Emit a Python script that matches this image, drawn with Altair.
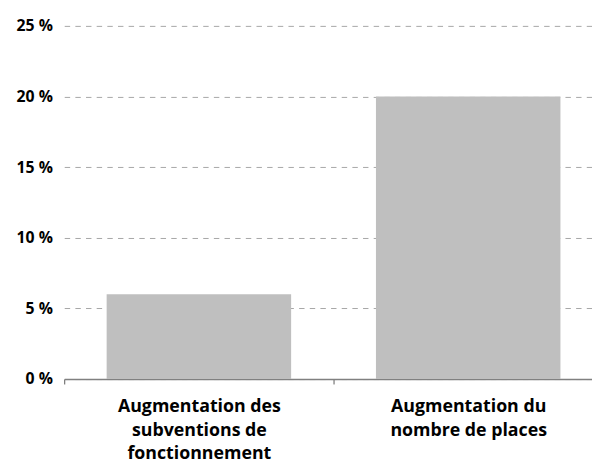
import altair as alt
import pandas as pd

categories = ["Augmentation des|subventions de|fonctionnement", "Augmentation du|nombre de places"]
values = [6, 20]
y_ticks = [0, 5, 10, 15, 20, 25]

df = pd.DataFrame({"cat": categories, "val": values})

FONT = "Open Sans"

chart = alt.Chart(df).mark_bar(
    color="#BFBFBF", width={"band": 0.685}
).encode(
    x=alt.X("cat:N", sort=categories, title=None,
            scale=alt.Scale(paddingInner=0, paddingOuter=0),
            axis=alt.Axis(labelAngle=0, labelExpr="split(datum.label, '|')",
                          labelFont=FONT, labelFontWeight="bold", labelFontSize=18,
                          labelColor="#000000", labelLineHeight=24, labelPadding=14,
                          tickBand="extent", tickSize=5, tickColor="#595959",
                          domainColor="#808080", domainWidth=1.5, labelLimit=400)),
    y=alt.Y("val:Q", title=None,
            scale=alt.Scale(domain=[0, 25], nice=False),
            axis=alt.Axis(values=y_ticks, labelExpr="datum.value + ' %'",
                          labelFont=FONT, labelFontWeight="bold", labelFontSize=16,
                          labelColor="#000000", labelPadding=12, ticks=False,
                          domain=False, grid=True, gridDash=[5.5, 5.3],
                          gridColor="#A6A6A6", gridWidth=1)),
).properties(
    width=546, height=358,
    autosize=alt.AutoSizeParams(type="none"),
    padding={"left": 57, "top": 15, "right": -11, "bottom": 85},
).configure_view(stroke=None)

chart.save("out.html", embed_options={"renderer": "svg", "actions": False})
